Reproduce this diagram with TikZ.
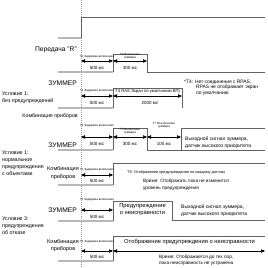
\documentclass[tikz,border=0pt]{standalone}
\usepackage{fontspec}
\setmainfont{Liberation Sans}
\usetikzlibrary{arrows.meta}
\begin{document}
\begin{tikzpicture}[x=1pt,y=-1pt,
  hi/.style={draw=black!62, line width=0.6pt},
  lo/.style={draw=black!28, line width=1.3pt},
  gridline/.style={draw=black!40, line width=0.5pt, dash pattern=on 1pt off 1pt},
  dur/.style={{Triangle[length=4pt,width=3.4pt]}-{Triangle[length=4pt,width=3.4pt]}, line width=0.5pt, draw=black},
  big/.style={font=\fontsize{6.7}{7}\selectfont, inner sep=0pt},
  cond/.style={font=\fontsize{5.3}{7}\selectfont, inner sep=0pt, anchor=west, align=left},
  tiny/.style={font=\fontsize{3}{3.4}\selectfont, inner sep=0pt, align=center},
  ms/.style={font=\fontsize{4.5}{5}\selectfont, inner sep=0pt},
  note/.style={font=\fontsize{4.9}{6}\selectfont, inner sep=0pt, anchor=west, align=left},
]
\useasboundingbox (0,0) rectangle (268,268);

% time grid
\coordinate (gtop) at (81,0);
\coordinate (gbot) at (81,268);
\draw[gridline] (gtop) -- (gbot);

% transmission R signal
\draw[lo] (58,38) -- (81,38);
\draw[hi] (81,38) -- (81,17) -- (265,17);
\node[big, anchor=east] (lblR) at (77,50) {Передача "R"};

% ===== Condition 1, buzzer =====
\draw[lo] (58,72) -- (113,72);
\draw[hi] (113,72) -- (113,54) -- (147,54) -- (147,72) -- (265,72);
\coordinate (a0) at (81,61); \coordinate (a1) at (113,61); \coordinate (a2) at (147,61);
\draw[dur] (a0) -- (a1); \draw[dur] (a1) -- (a2);
\node[tiny] (aT1) at (97,57) {T1 Задержка включения};
\node[ms] (aM1) at (97,68) {500 мс};
\node[tiny] (aT2) at (130,56.5) {T2 Включение\\зуммера};
\node[ms] (aM2) at (130,68) {300 мс};
\node[big, anchor=east] (lblZ1) at (77,83) {ЗУММЕР};
\node[cond] (cond1) at (2,98) {Условие 1:\\без предупреждений};

% ===== Condition 1, instrument cluster =====
\draw[lo] (58,108) -- (113,108);
\draw[hi] (113,108) -- (113,88) -- (182,88) -- (182,108);
\coordinate (b0) at (81,96); \coordinate (b1) at (113,96); \coordinate (b2) at (182,96);
\draw[dur] (b0) -- (b1); \draw[dur] (b1) -- (b2);
\node[tiny] (bT1) at (97,91) {T1 Задержка включения};
\node[ms] (bM1) at (97,103) {500 мс};
\node[font=\fontsize{4.2}{5}\selectfont, inner sep=0pt, anchor=west] (bT4) at (115,91) {T4 RAS Экран по умолчанию ВП)};
\node[ms] (bM2) at (150,103) {2000 мс};
\node[note, font=\fontsize{4.9}{5.7}\selectfont] (bNote) at (184,87.5) {*T4: Нет соединения с RPAS,\\\hspace*{12pt}RPAS не отображает экран\\\hspace*{12pt}по умолчанию};
\node[cond, anchor=east] (lblK1) at (78,116) {Комбинация приборов};

% ===== Condition 2, buzzer =====
\draw[lo] (58,150) -- (113,150);
\draw[hi] (113,150) -- (113,128) -- (147,128) -- (147,150) -- (265,150);
\draw[hi] (181,150) -- (181,128) -- (265,128);
\coordinate (c0) at (81,137); \coordinate (c1) at (113,137); \coordinate (c2) at (147,137); \coordinate (c3) at (181,137);
\draw[dur] (c0) -- (c1); \draw[dur] (c1) -- (c2); \draw[dur] (c2) -- (c3);
\node[tiny] (cT1) at (97,126) {T1 Задержка включения};
\node[ms] (cM1) at (97,144) {500 мс};
\node[tiny] (cT5) at (130,131.5) {T5 Включение\\зуммера};
\node[ms] (cM2) at (130,144) {300 мс};
\node[tiny] (cT7) at (164,125.5) {T7 Выключение\\зуммера};
\node[ms] (cM3) at (164,144) {100 мс};
\node[note, font=\fontsize{5}{7}\selectfont] (cOut) at (185,142.5) {Выходной сигнал зуммера,\\датчик высокого приоритета};
\node[big, anchor=east] (lblZ2) at (77,145) {ЗУММЕР};
\node[cond] (cond2) at (2,163.5) {Условие 1:\\нормальное\\предупреждения\\с объектами};

% ===== Condition 2, instrument cluster =====
\draw[lo] (58,185) -- (113,185);
\draw[hi] (113,185) -- (113,163) -- (265,163);
\coordinate (d0) at (81,175); \coordinate (d1) at (113,175);
\draw[dur] (d0) -- (d1);
\node[tiny] (dT1) at (97,170) {T1 Задержка включения};
\node[ms] (dM1) at (97,181) {500 мс};
\node[font=\fontsize{3.8}{4.5}\selectfont, inner sep=0pt, anchor=west] (dT9) at (127,172) {T9: Отображение предупреждения по каждому датчику};
\node[note, font=\fontsize{4.7}{7}\selectfont] (dTime) at (143,184.5) {Время: Отображать пока не изменится\\уровень предупреждения};
\node[font=\fontsize{5.5}{8}\selectfont, inner sep=0pt, align=center] (lblK2) at (63,173) {Комбинация\\приборов};

% ===== Condition 3, buzzer =====
\draw[lo] (58,221) -- (113,221);
\draw[hi] (113,221) -- (113,201) -- (172,201) -- (172,220) -- (265,220);
\coordinate (e0) at (81,210); \coordinate (e1) at (113,210);
\draw[dur] (e0) -- (e1);
\node[tiny] (eT1) at (97,200) {T1 Задержка включения};
\node[ms] (eM1) at (97,217) {500 мс};
\node[font=\fontsize{5.8}{7}\selectfont, inner sep=0pt, align=center] (eBox) at (142.5,209.5) {Предупреждение\\о неисправности};
\node[note, font=\fontsize{5}{7}\selectfont] (eOut) at (181,210.5) {Выходной сигнал зуммера,\\датчик высокого приоритета};
\node[big, anchor=east] (lblZ3) at (77,210) {ЗУММЕР};
\node[cond] (cond3) at (2,226) {Условие 3:\\предупреждение\\об отказе};

% ===== Condition 3, instrument cluster =====
\draw[lo] (58,261) -- (113,261);
\draw[hi] (113,261) -- (113,236) -- (265,236);
\coordinate (f0) at (81,251); \coordinate (f1) at (113,251); \coordinate (f2) at (265,251);
\draw[dur] (f0) -- (f1); \draw[dur] (f1) -- (f2);
\node[tiny] (fT1) at (97,242) {T1 Задержка включения};
\node[ms] (fM1) at (97,257) {500 мс};
\node[font=\fontsize{5.8}{7}\selectfont, inner sep=0pt, anchor=west] (fDisp) at (124,242) {Отображение предупреждения о неисправности};
\node[note, font=\fontsize{4.7}{6}\selectfont] (fTime) at (159,260) {Время: Отображается до тех пор,\\пока неисправность не устранена};
\node[font=\fontsize{5.5}{7}\selectfont, inner sep=0pt, align=center] (lblK3) at (63,245.5) {Комбинация\\приборов};
\end{tikzpicture}
\end{document}
